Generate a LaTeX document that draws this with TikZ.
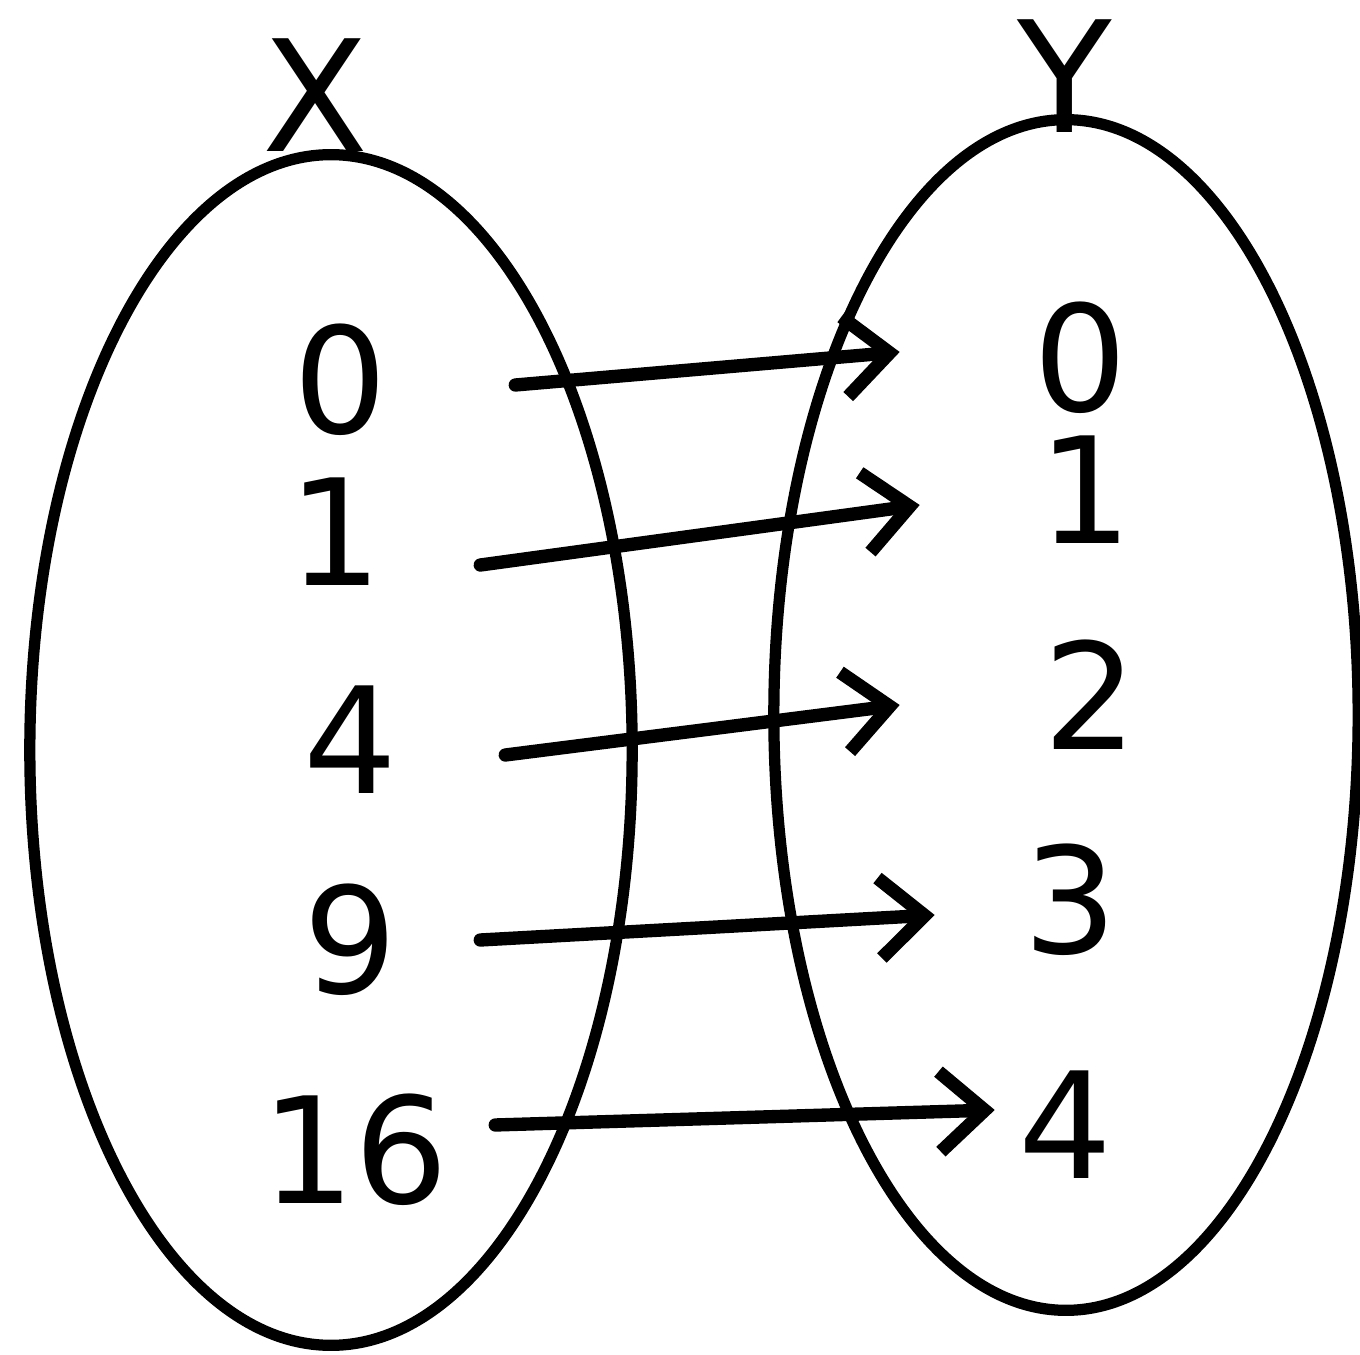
\documentclass[tikz,border=0pt]{standalone}
\usepackage{fontspec}
\setmainfont{DejaVu Sans}
\usetikzlibrary{arrows.meta,shapes.geometric}
\begin{document}
\begin{tikzpicture}[x=0.01cm,y=-0.01cm,line width=3pt,
  setbox/.style={draw,ellipse,inner sep=0pt,line width=3.2pt},
  num/.style={font=\fontsize{42}{46}\selectfont,inner sep=0pt},
  lbl/.style={font=\fontsize{44}{48}\selectfont,inner sep=0pt},
  arr/.style={line width=3.8pt,line cap=round,
    -{Straight Barb[length=0.45cm,width=0.8cm,line width=3.8pt]}}]
\useasboundingbox[fill=white] (0,0) rectangle (1360,1355);
\node[setbox,minimum width=6.02cm,minimum height=11.9cm] (X) at (331,750) {};
\node[setbox,minimum width=5.84cm,minimum height=11.9cm] (Y) at (1066,715) {};
\node[lbl] (xl) at (315,95) {X};
\node[lbl] (yl) at (1065,76) {Y};
% left numbers
\node[num] (l0) at (340,380) {0};
\node[num] (l1) at (335,532) {1};
\node[num] (l4) at (350,740) {4};
\node[num] (l9) at (350,940) {9};
\node[num] (l16) at (355,1150) {16};
% right numbers
\node[num] (r0) at (1080,358) {0};
\node[num] (r1) at (1085,490) {1};
\node[num] (r2) at (1090,695) {2};
\node[num] (r3) at (1070,900) {3};
\node[num] (r4) at (1065,1125) {4};
% arrows
\draw[arr] ([xshift=1.23cm,yshift=-0.05cm]l0.east) -- ([xshift=-1.28cm,yshift=0.06cm]r0.west);
\draw[arr] ([xshift=0.93cm,yshift=-0.33cm]l1.east) -- ([xshift=-1.13cm,yshift=-0.15cm]r1.west);
\draw[arr] ([xshift=1.03cm,yshift=-0.15cm]l4.east) -- ([xshift=-1.38cm,yshift=-0.10cm]r2.west);
\draw[arr] ([xshift=0.78cm,yshift=0.00cm]l9.east) -- ([xshift=-0.83cm,yshift=-0.15cm]r3.west);
\draw[arr] ([xshift=0.41cm,yshift=0.25cm]l16.east) -- ([xshift=-0.18cm,yshift=0.15cm]r4.west);
\end{tikzpicture}
\end{document}
